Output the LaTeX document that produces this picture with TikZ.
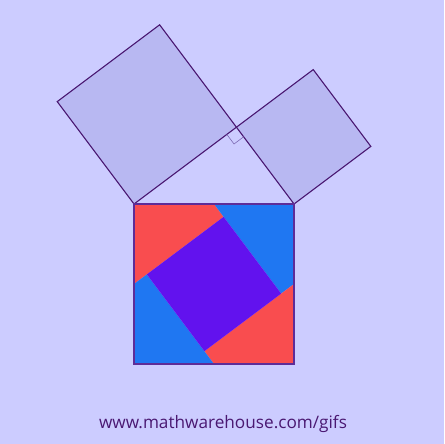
\documentclass[tikz,border=0pt]{standalone}
\usepackage{fontspec}
\setmainfont{Open Sans}
\definecolor{bgc}{HTML}{CCCCFF}
\definecolor{sqfill}{HTML}{B8B8F2}
\definecolor{sqline}{HTML}{4A1872}
\definecolor{redp}{HTML}{F94D4F}
\definecolor{bluep}{HTML}{1F77F2}
\definecolor{purp}{HTML}{6212EE}
\definecolor{bord}{HTML}{5E2C98}
\definecolor{marker}{HTML}{7E6CB4}
\definecolor{txt}{HTML}{4A1872}
\tikzset{
  legsq/.style={fill=sqfill, draw=sqline, line width=1.1pt, line join=miter},
  piece/.style={draw=none},
  ramark/.style={draw=marker, line width=0.6pt},
  bigsq/.style={draw=bord, line width=1.3pt},
  url/.style={text=txt, inner sep=0pt, anchor=base}
}
\begin{document}
\begin{tikzpicture}[x=1pt,y=-1pt]
\fill[bgc] (0,0) rectangle (444,444);
\useasboundingbox (0,0) rectangle (444,444);
% triangle vertices
\coordinate (A) at (134,204);
\coordinate (B) at (294,204);
\coordinate (C) at (236.4,127.2);
% left square on AC
\coordinate (L1) at (159.6,24.8);
\coordinate (L2) at (57.2,101.6);
% right square on CB
\coordinate (R1) at (370.8,146.4);
\coordinate (R2) at (313.2,69.6);
\draw[legsq] (A) -- (C) -- (L1) -- (L2) -- cycle;
\draw[legsq] (C) -- (B) -- (R1) -- (R2) -- cycle;
% right angle mark
\coordinate (M1) at (226.8,134.4);
\coordinate (M2) at (243.6,136.8);
\coordinate (M3) at (234.0,144.0);
\draw[ramark] (M1) -- (M3) -- (M2);
% hypotenuse square
\coordinate (D) at (294,364);
\coordinate (E) at (134,364);
\coordinate (Tm) at (214,204);
\coordinate (Rm) at (294,284);
\coordinate (Bm) at (214,364);
\coordinate (Lm) at (134,284);
\coordinate (Qt) at (223.6,216.8);
\coordinate (Qr) at (281.2,293.6);
\coordinate (Qb) at (204.4,351.2);
\coordinate (Ql) at (146.8,274.4);
\fill[redp] (A) -- (Tm) -- (Qt) -- (Lm) -- cycle;
\fill[bluep] (B) -- (Rm) -- (Qr) -- (Tm) -- cycle;
\fill[redp] (D) -- (Bm) -- (Qb) -- (Rm) -- cycle;
\fill[bluep] (E) -- (Lm) -- (Ql) -- (Bm) -- cycle;
\fill[purp] (Qt) -- (Qr) -- (Qb) -- (Ql) -- cycle;
\draw[bigsq] (A) -- (B) -- (D) -- (E) -- cycle;
% url
\node[url] (web) at (223,428.3) {\resizebox{248pt}{!}{\fontsize{16}{19}\selectfont www.mathwarehouse.com/gifs}};
\end{tikzpicture}
\end{document}
